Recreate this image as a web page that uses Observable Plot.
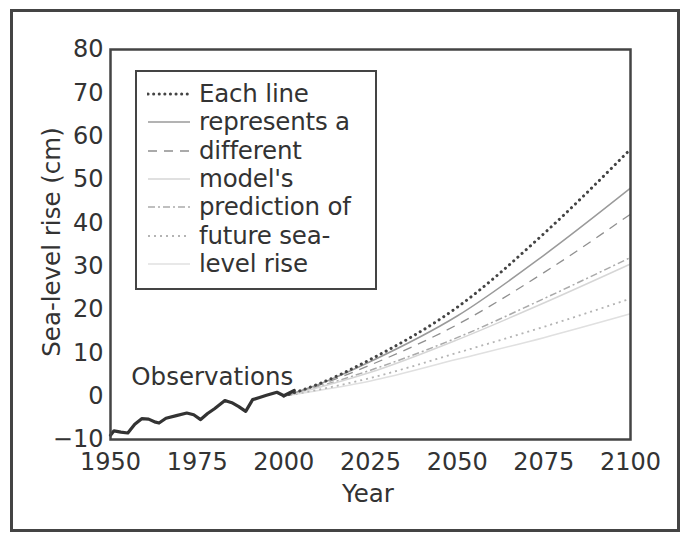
<!DOCTYPE html>
<html>
<head>
<meta charset="utf-8">
<script src="https://cdn.jsdelivr.net/npm/d3@7"></script>
<script src="https://cdn.jsdelivr.net/npm/@observablehq/plot@0.6"></script>
<style>
  html, body { margin: 0; padding: 0; background: #fff; }
  #wrap { position: relative; width: 688px; height: 533px; overflow: hidden; font-family: "DejaVu Sans", sans-serif; color: #333; }
  #border { position: absolute; left: 10px; top: 9px; width: 664px; height: 517px; border: 3px solid #444; }
  #legend { position: absolute; left: 135px; top: 70px; width: 238px; height: 216px; border: 2.5px solid #444; background: #fff; box-sizing: content-box; }
  .row { position: absolute; left: 0; height: 28px; display: flex; align-items: center; white-space: nowrap; }
  .row svg { margin-left: 10px; margin-right: 8px; }
  .row span { font-size: 24.5px; line-height: 28px; color: #333; letter-spacing: -0.2px; }
  .title { position: absolute; font-size: 24.5px; color: #333; white-space: nowrap; line-height: 1; }
  #xtitle { left: 368px; top: 494px; transform: translate(-50%, -50%); }
  #ytitle { left: 52px; top: 242px; transform: translate(-50%, -50%) rotate(-90deg); }
</style>
</head>
<body>
<div id="wrap"><div id="border"></div></div>
<script>
// Observations
const obsYears  = [1950, 1951, 1953, 1955, 1957, 1959, 1961, 1963, 1964, 1966, 1969, 1972, 1974, 1976, 1978, 1980, 1983, 1985, 1987, 1989, 1991, 1993, 1995, 1998, 2000, 2003];
const obsValues = [-9, -8, -8.3, -8.5, -6.5, -5.2, -5.3, -6, -6.2, -5.1, -4.5, -3.9, -4.3, -5.4, -4, -2.9, -1, -1.5, -2.4, -3.5, -0.8, -0.3, 0.2, 0.9, 0.1, 1.3];

// Model projections
const projYears = [2000, 2010, 2025, 2050, 2075, 2100];
const model1 = [0, 2.8, 8.5, 20.5, 37.5, 57];
const model2 = [0, 2.7, 8, 18.5, 32.5, 48];
const model3 = [0, 2.5, 7.2, 16.5, 28.5, 42];
const model4 = [0, 2.0, 5.5, 13, 21.5, 30.5];
const model5 = [0, 2.2, 6, 13.5, 22.5, 32];
const model6 = [0, 1.5, 4.2, 10, 16, 22.5];
const model7 = [0, 1.3, 3.5, 8.5, 13.5, 19];

const legendLines = ["Each line", "represents a", "different", "model's", "prediction of", "future sea-", "level rise"];
const xTicks = [1950, 1975, 2000, 2025, 2050, 2075, 2100];
const yTicks = [-10, 0, 10, 20, 30, 40, 50, 60, 70, 80];
const xTitle = "Year";
const yTitle = "Sea-level rise (cm)";
const annotations = [{label: "Observations", year: 1956, value: 4.5}];

// styles (kept separate from data)
const modelValues = [model1, model2, model3, model4, model5, model6, model7];
const styles = [
  {stroke: "#444", width: 3, dash: "0.1 5.5", cap: "round"},
  {stroke: "#9a9a9a", width: 1.5, dash: null, cap: "butt"},
  {stroke: "#8f8f8f", width: 1.3, dash: "9 7", cap: "butt"},
  {stroke: "#d6d6d6", width: 1.5, dash: null, cap: "butt"},
  {stroke: "#aaaaaa", width: 1.5, dash: "7 3 2 3", cap: "butt"},
  {stroke: "#b4b4b4", width: 1.8, dash: "2 4", cap: "butt"},
  {stroke: "#e0e0e0", width: 1.6, dash: null, cap: "butt"}
];

const obs = obsYears.map((y, i) => ({year: y, value: obsValues[i]}));
const models = modelValues.map(vals => projYears.map((y, i) => ({year: y, value: vals[i]})));

const modelMarks = models.slice().reverse().map((d, ri) => {
  const s = styles[models.length - 1 - ri];
  return Plot.line(d, {x: "year", y: "value", curve: "monotone-x", stroke: s.stroke, strokeWidth: s.width, strokeDasharray: s.dash, strokeLinecap: s.cap});
});

const plot = Plot.plot({
  width: 688,
  height: 533,
  marginLeft: 110,
  marginRight: 58,
  marginTop: 49,
  marginBottom: 94,
  style: {fontFamily: "'DejaVu Sans', sans-serif", fontSize: "24px", color: "#333", background: "transparent", overflow: "visible"},
  x: {domain: [1950, 2100]},
  y: {domain: [-10, 80]},
  marks: [
    ...modelMarks,
    Plot.line(obs, {x: "year", y: "value", stroke: "#333", strokeWidth: 3.2, strokeLinejoin: "round", curve: "linear"}),
    Plot.text(annotations, {x: "year", y: "value", text: "label", textAnchor: "start", fill: "#333", fontSize: 24.5}),
    Plot.frame({stroke: "#444", strokeWidth: 2.5}),
    Plot.axisX(xTicks, {tickSize: 0, tickPadding: 13, fontSize: 24, tickFormat: d => String(d), label: null}),
    Plot.axisY(yTicks, {tickSize: 0, tickPadding: 7, fontSize: 24, tickFormat: d => d < 0 ? "\u2212" + Math.abs(d) : String(d), label: null})
  ]
});
plot.style.position = "absolute";
plot.style.left = "0px";
plot.style.top = "0px";
const wrap = document.getElementById("wrap");
wrap.appendChild(plot);

// axis titles
const xt = document.createElement("div"); xt.className = "title"; xt.id = "xtitle"; xt.textContent = xTitle; wrap.appendChild(xt);
const yt = document.createElement("div"); yt.className = "title"; yt.id = "ytitle"; yt.textContent = yTitle; wrap.appendChild(yt);

// legend
const legend = document.createElement("div");
legend.id = "legend";
legendLines.forEach((t, i) => {
  const row = document.createElement("div");
  row.className = "row";
  row.style.top = (8 + i * 28.3) + "px";
  const s = styles[i];
  const svg = d3.create("svg").attr("width", 44).attr("height", 10);
  svg.append("line").attr("x1", 1).attr("x2", 43).attr("y1", 5).attr("y2", 5)
    .attr("stroke", s.stroke).attr("stroke-width", s.width)
    .attr("stroke-dasharray", s.dash).attr("stroke-linecap", s.cap);
  row.appendChild(svg.node());
  const span = document.createElement("span");
  span.textContent = t;
  row.appendChild(span);
  legend.appendChild(row);
});
wrap.appendChild(legend);
</script>
</body>
</html>
